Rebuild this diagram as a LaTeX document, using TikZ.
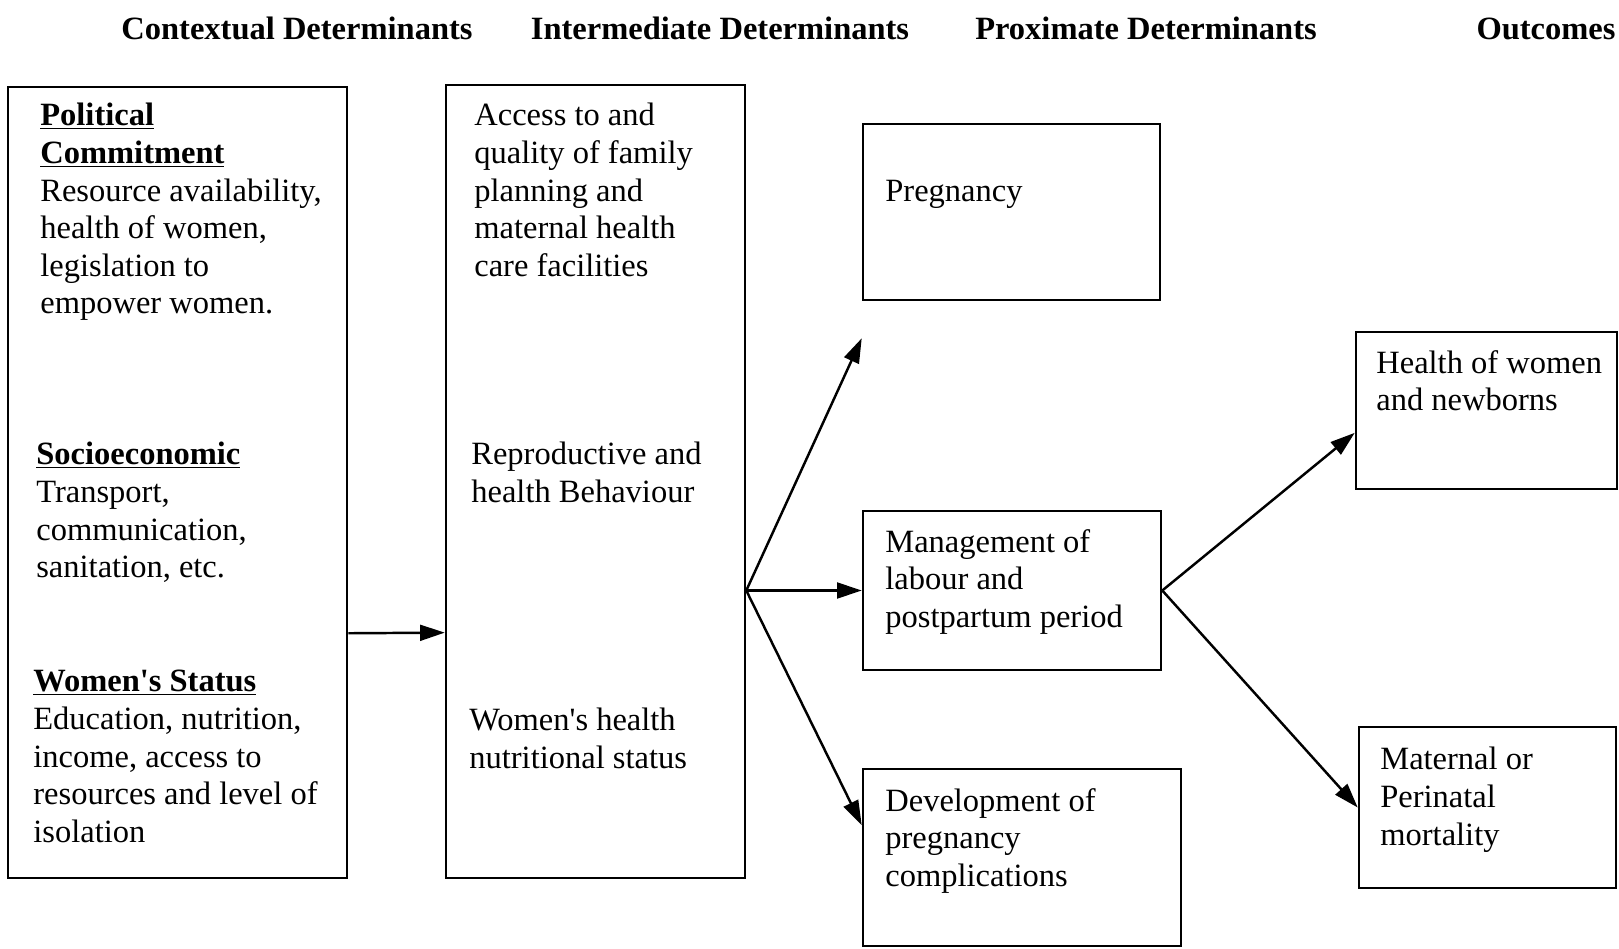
\documentclass[tikz,border=0pt]{standalone}
\usepackage{fontspec}
\setmainfont{Liberation Serif}
\usetikzlibrary{arrows.meta,calc}

\newcommand{\bodyfont}{\fontsize{18.5}{21.4}\selectfont}
\newcommand{\headfont}{\fontsize{18.5}{21.4}\selectfont\bfseries}
\newcommand{\subhead}[1]{\textbf{\underline{#1}}}

\begin{document}
\begin{tikzpicture}[
        x=0.02cm, y=-0.02cm,
        box/.style={draw, rectangle, line width=1.5pt, inner sep=0pt},
        txt/.style={anchor=north west, align=left, inner sep=0pt, font=\bodyfont},
        head/.style={anchor=base, inner sep=0pt, font=\headfont},
        arrow/.style={-{Triangle[length=14pt,width=9pt]}, line width=1.4pt}
    ]
    \useasboundingbox (0,0) rectangle (1619,949);
    % Column headings
    \node[head] (hctx) at (297,40) {Contextual Determinants};
    \node[head] (hmid) at (720,40) {Intermediate Determinants};
    \node[head] (hprox) at (1146,40) {Proximate Determinants};
    \node[head] (hout) at (1546,40) {Outcomes};
    % Boxes
    \node[box, minimum width=6.78cm, minimum height=15.82cm] (ctx) at (177.5,482.5) {};
    \node[box, minimum width=5.98cm, minimum height=15.86cm] (mid) at (595.5,481.5) {};
    \node[box, minimum width=5.94cm, minimum height=3.52cm] (preg) at (1011.5,212) {};
    \node[box, minimum width=5.96cm, minimum height=3.18cm] (mgmt) at (1012,590.5) {};
    \node[box, minimum width=6.36cm, minimum height=3.54cm] (dev) at (1022,857.5) {};
    \node[box, minimum width=5.22cm, minimum height=3.14cm] (health) at (1486.5,410.5) {};
    \node[box, minimum width=5.14cm, minimum height=3.22cm] (mort) at (1487.5,807.5) {};
    % Texts in the boxes
    \node[txt] (political) at (40,103) {\subhead{Political}\\ \subhead{Commitment}\\ Resource availability,\\ health of women,\\ legislation to\\ empower women.};
    \node[txt] (socio) at (36,442) {\subhead{Socioeconomic}\\ Transport,\\ communication,\\ sanitation, etc.};
    \node[txt] (status) at (33,670) {\subhead{Women\textquotesingle s Status}\\ Education, nutrition,\\ income, access to\\ resources and level of\\ isolation};
    \node[txt] (access) at (474,103) {Access to and\\ quality of family\\ planning and\\ maternal health\\ care facilities};
    \node[txt] (behav) at (471,442) {Reproductive and\\ health Behaviour};
    \node[txt] (nutri) at (469,708) {Women\textquotesingle s health\\ nutritional status};
    \node[txt] (pregtxt) at (885,180) {Pregnancy};
    \node[txt] (mgmttxt) at (885,529) {Management of\\ labour and\\ postpartum period};
    \node[txt] (devtxt) at (885,788) {Development of\\ pregnancy\\ complications};
    \node[txt] (healthtxt) at (1376,350) {Health of women\\ and newborns};
    \node[txt] (morttxt) at (1380,747) {Maternal or\\ Perinatal\\ mortality};
    % Arrows
    \coordinate (fork) at (mid.east |- mgmt.west);
    \coordinate (pregtip) at ($(preg.south west)+(0,37)$);
    \draw[arrow] ($(ctx.north east)!0.69!(ctx.south east)$) -- ($(mid.north west)!0.69!(mid.south west)$);
    \draw[arrow] (fork) -- (pregtip);
    \draw[arrow] (fork) -- (mgmt.west);
    \draw[arrow] (fork) -- ($(dev.north west)!0.32!(dev.south west)$);
    \draw[arrow] (mgmt.east) -- ($(health.north west)!0.64!(health.south west)$);
    \draw[arrow] (mgmt.east) -- (mort.west);
\end{tikzpicture}
\end{document}
